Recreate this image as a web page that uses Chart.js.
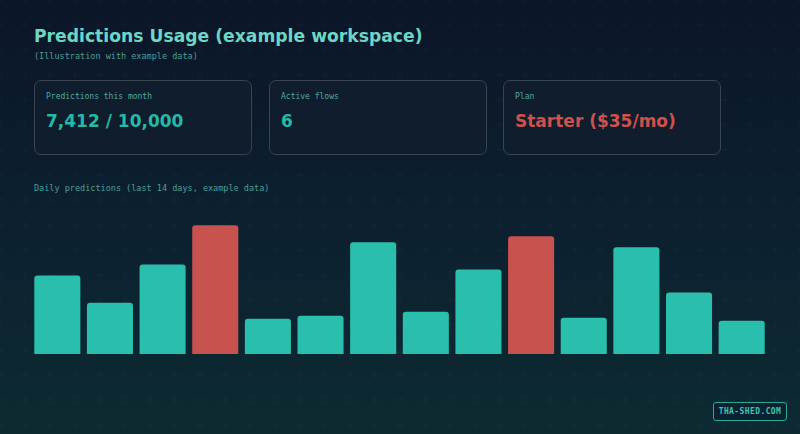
<!DOCTYPE html>
<html>
<head>
<meta charset="utf-8">
<script src="https://cdn.jsdelivr.net/npm/chart.js@4"></script>
<style>
  html, body { margin: 0; padding: 0; }
  body {
    width: 800px; height: 434px; overflow: hidden; position: relative;
    background-color: #0c1d2b;
    background-image:
      url("data:image/svg+xml;utf8,<svg xmlns='http://www.w3.org/2000/svg' width='25' height='25'><path d='M25 21v8M21 25h8M0 21v8M-4 25h8M25 -4v8M21 0h8M0 -4v8M-4 0h8' stroke='%23ffffff' stroke-opacity='0.022' stroke-width='1'/></svg>"),
      linear-gradient(180deg, #0b1628 0%, #0c2130 55%, #0d2a31 100%);
    font-family: "DejaVu Sans", sans-serif;
  }
  .title { position: absolute; left: 34px; top: 26px; font-weight: bold; font-size: 17.2px; color: #6dd6c6; }
  .sub { position: absolute; left: 34px; top: 51px; font-family: "DejaVu Sans Mono", monospace; font-size: 8.5px; color: #4e9e98; }
  .card { position: absolute; top: 80px; width: 218px; height: 75px; box-sizing: border-box;
    border: 1px solid #38444f; border-radius: 7px; background: #0f1d2d; }
  .card .lab { position: absolute; left: 11px; top: 11px; font-family: "DejaVu Sans Mono", monospace; font-size: 8px; color: #52aaa0; }
  .card .val { position: absolute; left: 11px; top: 30px; font-weight: bold; font-size: 17px; color: #27b8a6; }
  .card .val.red { color: #cf514c; }
  .sect { position: absolute; left: 34px; top: 183px; font-family: "DejaVu Sans Mono", monospace; font-size: 8.5px; color: #4e9e98; }
  .chartbox { position: absolute; left: 31px; top: 198px; width: 737px; height: 156px; }
  .badge { position: absolute; left: 713px; top: 402px; width: 74px; height: 19px; box-sizing: border-box;
    border: 1px solid #2aa99a; border-radius: 3px; background: #0c2230;
    font-family: "DejaVu Sans Mono", monospace; font-weight: bold; font-size: 8px; letter-spacing: 0.4px;
    color: #3cc4b2; text-align: center; line-height: 17px; }
</style>
</head>
<body>
<div class="title">Predictions Usage (example workspace)</div>
<div class="sub">(Illustration with example data)</div>

<div class="card" style="left:34px"><div class="lab">Predictions this month</div><div class="val">7,412 / 10,000</div></div>
<div class="card" style="left:269px"><div class="lab">Active flows</div><div class="val">6</div></div>
<div class="card" style="left:503px"><div class="lab">Plan</div><div class="val red">Starter ($35/mo)</div></div>

<div class="sect">Daily predictions (last 14 days, example data)</div>
<div class="chartbox"><canvas id="dailyChart"></canvas></div>
<div class="badge">THA-SHED.COM</div>

<script>
// example data
var days = ["D1", "D2", "D3", "D4", "D5", "D6", "D7", "D8", "D9", "D10", "D11", "D12", "D13", "D14"];
var predictions = [312, 204, 356, 512, 140, 152, 444, 168, 336, 468, 144, 424, 244, 132];
var peakDays = [3, 9];

var teal = "#29bfac";
var red = "#c7524e";

var barColors = predictions.map(function (v, i) {
	return peakDays.indexOf(i) >= 0 ? red : teal;
});

var ctx = document.getElementById("dailyChart").getContext("2d");
var myChart = new Chart(ctx, {
	type: 'bar',
	data: {
		labels: days,
		datasets: [{
			data: predictions,
			backgroundColor: barColors,
			borderColor: barColors,
			borderWidth: 0,
			borderRadius: 3,
			borderSkipped: 'bottom',
			categoryPercentage: 1,
			barPercentage: 0.875
		}]
	},
	options: {
		responsive: true,
		maintainAspectRatio: false,
		animation: false,
		layout: { padding: 0 },
		plugins: {
			legend: { display: false },
			tooltip: { enabled: false }
		},
		scales: {
			x: {
				display: true,
				grid: { display: false, drawTicks: false },
				ticks: { display: false },
				border: { display: true, color: '#1d2e3a', width: 1 }
			},
			y: {
				display: false,
				min: 0,
				max: 620
			}
		}
	}
});
</script>
</body>
</html>
